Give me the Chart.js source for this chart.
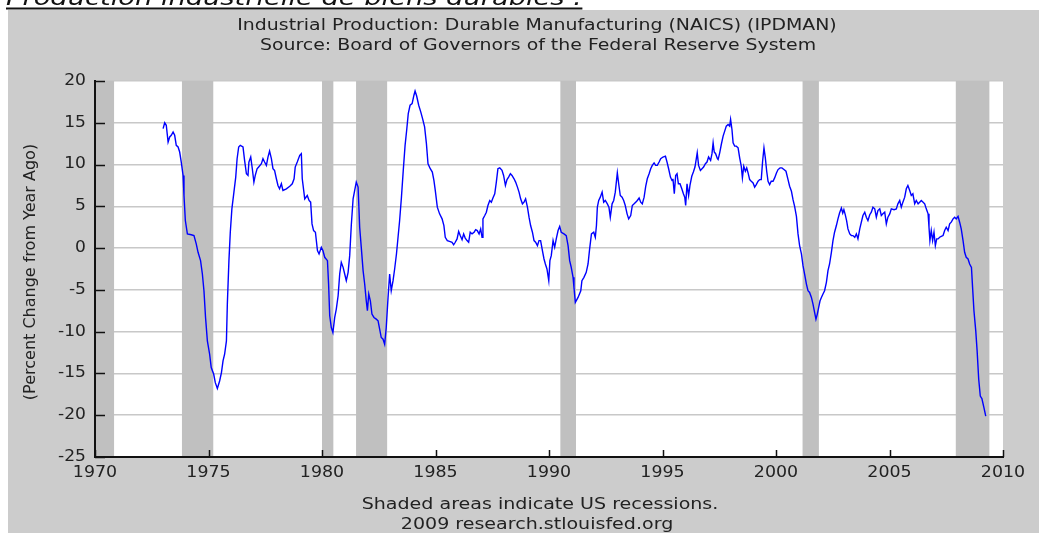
<!DOCTYPE html>
<html>
<head>
<meta charset="utf-8">
<title>IPDMAN</title>
<script src="https://cdn.jsdelivr.net/npm/chart.js@4"></script>
<style>
  html, body { margin: 0; padding: 0; background: #fff; }
  canvas { display: block; }
</style>
</head>
<body>
<canvas id="ipChart" width="1045" height="533"></canvas>
<script>
// Percent change from year ago (decimal years)
let years = [
    1973.00, 1973.07, 1973.14, 1973.22, 1973.29, 1973.36, 1973.44, 1973.51, 1973.58, 1973.66,
    1973.73, 1973.80, 1973.88, 1973.92, 1973.98, 1974.07, 1974.24, 1974.36, 1974.46, 1974.54,
    1974.65, 1974.73, 1974.80, 1974.87, 1974.95, 1975.05, 1975.12, 1975.23, 1975.30, 1975.39,
    1975.49, 1975.57, 1975.64, 1975.71, 1975.79, 1975.83, 1975.90, 1975.96, 1976.03, 1976.12,
    1976.20, 1976.26, 1976.33, 1976.40, 1976.52, 1976.59, 1976.67, 1976.74, 1976.78, 1976.86,
    1976.93, 1977.00, 1977.06, 1977.14, 1977.21, 1977.33, 1977.40, 1977.47, 1977.55, 1977.62,
    1977.69, 1977.77, 1977.84, 1977.91, 1977.99, 1978.06, 1978.13, 1978.21, 1978.28, 1978.43,
    1978.58, 1978.69, 1978.77, 1978.82, 1978.91,
    1979.02, 1979.09, 1979.13, 1979.24, 1979.35, 1979.43, 1979.50, 1979.56, 1979.63, 1979.71,
    1979.80, 1979.87, 1979.97, 1980.04, 1980.12, 1980.24, 1980.29, 1980.34, 1980.41, 1980.48,
    1980.56, 1980.63, 1980.71, 1980.78, 1980.85, 1980.93, 1981.00, 1981.07, 1981.15, 1981.22,
    1981.29, 1981.37, 1981.44, 1981.51, 1981.59, 1981.66, 1981.73, 1981.81, 1981.88, 1981.95,
    1982.00, 1982.06, 1982.13, 1982.20, 1982.29, 1982.39, 1982.47, 1982.54, 1982.61, 1982.69,
    1982.76, 1982.83, 1982.91, 1982.98, 1983.05, 1983.13, 1983.20, 1983.28, 1983.35, 1983.42,
    1983.50, 1983.58, 1983.66, 1983.73, 1983.80, 1983.88, 1983.97, 1984.05, 1984.10, 1984.17,
    1984.26, 1984.35, 1984.43, 1984.52, 1984.60, 1984.67, 1984.77, 1984.86, 1984.93, 1984.99,
    1985.08,
    1985.18, 1985.29, 1985.37, 1985.43, 1985.52, 1985.62, 1985.73, 1985.80, 1985.87, 1985.95,
    1986.02, 1986.09, 1986.17, 1986.24, 1986.31, 1986.39, 1986.46, 1986.53, 1986.61, 1986.70,
    1986.77, 1986.84, 1986.92, 1986.99, 1987.05, 1987.09, 1987.17, 1987.24, 1987.31, 1987.39,
    1987.46, 1987.53, 1987.61, 1987.68, 1987.75, 1987.83, 1987.93, 1988.00, 1988.08, 1988.15,
    1988.22, 1988.30, 1988.37, 1988.46, 1988.53, 1988.61, 1988.68, 1988.75, 1988.83, 1988.90,
    1988.97, 1989.05, 1989.12, 1989.19, 1989.27, 1989.34, 1989.41, 1989.49, 1989.56, 1989.63,
    1989.71, 1989.78, 1989.84, 1989.91, 1989.99, 1990.04, 1990.10, 1990.18, 1990.25, 1990.32,
    1990.40, 1990.47, 1990.54, 1990.66, 1990.76, 1990.84, 1990.91, 1990.98, 1991.06, 1991.10,
    1991.16,
    1991.28, 1991.40, 1991.45, 1991.54, 1991.64, 1991.72, 1991.79, 1991.87, 1991.97, 1992.04,
    1992.09, 1992.13, 1992.19, 1992.26, 1992.34, 1992.41, 1992.48, 1992.57, 1992.64, 1992.70,
    1992.78, 1992.85, 1992.92, 1993.01, 1993.07, 1993.14, 1993.22, 1993.29, 1993.36, 1993.44,
    1993.51, 1993.60, 1993.67, 1993.75, 1993.82, 1993.89, 1993.97, 1994.04, 1994.11, 1994.19,
    1994.26, 1994.33, 1994.41, 1994.48, 1994.55, 1994.63, 1994.70, 1994.77, 1994.85, 1994.92,
    1995.02, 1995.13, 1995.20, 1995.27, 1995.35, 1995.42, 1995.46, 1995.52, 1995.58, 1995.64,
    1995.70, 1995.77, 1995.85, 1995.92, 1995.98, 1996.02, 1996.08, 1996.15, 1996.21, 1996.29,
    1996.36, 1996.43, 1996.49, 1996.53, 1996.59, 1996.67, 1996.74, 1996.81, 1996.89, 1996.96,
    1997.03, 1997.12, 1997.18, 1997.23, 1997.28, 1997.34, 1997.42,
    1997.45, 1997.52, 1997.59, 1997.67, 1997.74, 1997.81, 1997.89, 1997.96, 1998.00, 1998.06,
    1998.11, 1998.18, 1998.25, 1998.33, 1998.40, 1998.47, 1998.52, 1998.58, 1998.65, 1998.71,
    1998.77, 1998.84, 1998.91, 1998.99, 1999.06, 1999.13, 1999.21, 1999.28, 1999.35, 1999.41,
    1999.47, 1999.53, 1999.59, 1999.65, 1999.72, 1999.79, 1999.87, 1999.94, 2000.02, 2000.09,
    2000.18, 2000.26, 2000.35, 2000.44, 2000.53, 2000.60, 2000.68, 2000.75, 2000.82, 2000.90,
    2000.97, 2001.04, 2001.12, 2001.19, 2001.26, 2001.34, 2001.41, 2001.48, 2001.56, 2001.63,
    2001.70, 2001.76, 2001.82, 2001.88, 2001.94, 2002.00, 2002.07, 2002.14, 2002.22, 2002.29,
    2002.36, 2002.44, 2002.51, 2002.58, 2002.66, 2002.73, 2002.80, 2002.88, 2002.94, 2002.99,
    2003.05, 2003.11, 2003.17, 2003.25, 2003.32, 2003.39, 2003.47, 2003.54,
    2003.61, 2003.69, 2003.76, 2003.83, 2003.91, 2003.98, 2004.05, 2004.13, 2004.20, 2004.27,
    2004.35, 2004.42, 2004.49, 2004.57, 2004.64, 2004.71, 2004.79, 2004.86, 2004.93, 2005.01,
    2005.08, 2005.20, 2005.30, 2005.37, 2005.45, 2005.52, 2005.59, 2005.67, 2005.74, 2005.81,
    2005.89, 2005.96, 2006.03, 2006.11, 2006.18, 2006.26, 2006.33, 2006.40, 2006.48, 2006.55,
    2006.62, 2006.70, 2006.74, 2006.78, 2006.84, 2006.90, 2006.96, 2007.02, 2007.08, 2007.14,
    2007.21, 2007.28, 2007.36, 2007.43, 2007.50, 2007.58, 2007.65, 2007.72, 2007.80, 2007.87,
    2007.94, 2008.02, 2008.09, 2008.16, 2008.24, 2008.31, 2008.38, 2008.46, 2008.53, 2008.61,
    2008.66, 2008.72, 2008.80, 2008.86, 2008.93, 2009.00, 2009.07, 2009.16, 2009.24
];

let values = [
    14.3, 15.0, 14.7, 12.7, 13.3, 13.5, 13.9, 13.5, 12.3, 12.1,
    11.5, 10.3, 8.7, 6.3, 3.3, 1.7, 1.6, 1.5, 0.5, -0.5,
    -1.5, -3.1, -5.1, -8.3, -11.1, -12.7, -14.3, -15.1, -16.1, -16.8,
    -15.9, -14.9, -13.5, -12.7, -11.1, -6.7, -1.5, 1.9, 4.7, 6.7,
    8.5, 10.7, 12.1, 12.3, 12.1, 10.5, 8.9, 8.7, 10.3, 10.9,
    9.5, 7.9, 8.7, 9.5, 9.7, 10.1, 10.7, 10.3, 9.9, 10.9,
    11.6, 10.7, 9.5, 9.3, 8.3, 7.5, 7.1, 7.7, 6.9, 7.1,
    7.4, 7.7, 8.3, 9.7, 10.3,
    11.1, 11.3, 8.3, 5.9, 6.3, 5.7, 5.5, 2.9, 2.1, 1.9,
    -0.3, -0.7, 0.1, -0.3, -1.1, -1.5, -4.3, -8.1, -9.5, -10.1,
    -8.3, -7.3, -5.7, -3.1, -1.7, -2.3, -3.1, -3.9, -2.9, -0.9,
    2.7, 5.9, 6.9, 7.9, 7.3, 2.5, 0.1, -2.7, -4.3, -6.3,
    -7.5, -5.5, -6.3, -7.9, -8.3, -8.5, -8.7, -9.7, -10.7, -10.9,
    -11.5, -9.5, -5.9, -3.1, -5.1, -3.9, -2.5, -0.7, 1.3, 3.3,
    6.1, 9.3, 12.3, 14.1, 16.1, 17.1, 17.3, 18.3, 18.8, 18.2,
    17.1, 16.3, 15.5, 14.5, 12.5, 10.1, 9.5, 9.1, 8.1, 6.9,
    4.9,
    4.1, 3.5, 2.7, 1.3, 0.9, 0.8, 0.7, 0.4, 0.7, 1.1,
    2.0, 1.5, 1.0, 1.7, 1.2, 0.9, 0.7, 1.9, 1.7, 1.9,
    2.2, 2.1, 1.7, 2.3, 1.3, 3.5, 3.9, 4.3, 5.1, 5.7,
    5.5, 6.0, 6.5, 7.9, 9.5, 9.6, 9.3, 8.7, 7.5, 8.2,
    8.5, 8.9, 8.7, 8.3, 7.9, 7.3, 6.7, 5.9, 5.3, 5.5,
    5.9, 4.9, 3.7, 2.7, 1.9, 0.9, 0.7, 0.3, 0.9, 0.9,
    -0.3, -1.3, -1.9, -2.5, -3.9, -1.5, -0.9, 0.9, 0.1, 1.1,
    2.1, 2.6, 1.9, 1.7, 1.5, 0.3, -1.5, -2.3, -3.5, -4.7,
    -6.5,
    -5.9, -5.1, -3.9, -3.5, -2.9, -1.9, -0.1, 1.7, 1.9, 1.3,
    2.7, 4.9, 5.7, 6.1, 6.7, 5.5, 5.7, 5.3, 4.9, 3.7,
    5.3, 5.7, 6.7, 9.0, 7.7, 6.3, 6.1, 5.7, 5.1, 4.1,
    3.5, 3.9, 5.1, 5.3, 5.5, 5.7, 6.0, 5.5, 5.3, 6.1,
    7.4, 8.3, 8.9, 9.5, 9.9, 10.2, 9.9, 9.9, 10.3, 10.7,
    10.9, 11.0, 10.3, 9.5, 8.5, 8.1, 8.3, 6.5, 8.7, 8.9,
    7.7, 7.7, 7.1, 6.5, 6.1, 5.1, 7.7, 6.3, 7.5, 8.6,
    9.1, 9.7, 10.7, 11.4, 9.9, 9.3, 9.5, 9.7, 10.1, 10.3,
    10.9, 10.5, 11.3, 12.6, 11.5, 11.3, 10.7,
    10.6, 11.4, 12.4, 13.4, 14.0, 14.6, 14.8, 14.6, 15.4, 14.2,
    12.6, 12.2, 12.2, 12.0, 10.8, 9.8, 8.4, 9.8, 9.2, 9.6,
    9.0, 8.2, 8.0, 7.8, 7.3, 7.6, 8.0, 8.2, 8.2, 10.4,
    12.0, 10.8, 9.2, 8.0, 7.6, 8.0, 8.0, 8.4, 9.0, 9.4,
    9.6, 9.6, 9.4, 9.2, 8.2, 7.4, 6.8, 5.8, 5.0, 3.8,
    1.7, 0.3, -0.7, -2.1, -3.1, -4.3, -5.1, -5.3, -5.9, -6.7,
    -7.7, -8.5, -7.9, -7.1, -6.3, -5.9, -5.5, -5.1, -4.1, -2.7,
    -1.9, -0.5, 0.9, 1.9, 2.7, 3.5, 4.2, 4.8, 4.2, 4.6,
    4.0, 3.3, 2.3, 1.7, 1.5, 1.5, 1.3, 1.7,
    1.1, 2.3, 3.1, 3.9, 4.3, 3.7, 3.3, 4.0, 4.3, 4.9,
    4.7, 3.7, 4.5, 4.7, 3.9, 4.1, 4.3, 2.9, 3.7, 4.1,
    4.7, 4.6, 4.7, 5.3, 5.7, 4.9, 5.5, 6.1, 7.1, 7.5,
    6.9, 6.3, 6.5, 5.3, 5.7, 5.3, 5.5, 5.7, 5.5, 5.3,
    4.7, 4.1, 2.5, 0.9, 2.1, 0.9, 1.9, 0.3, 1.1, 1.1,
    1.3, 1.4, 1.5, 2.1, 2.5, 2.1, 2.9, 3.1, 3.5, 3.7,
    3.5, 3.8, 3.1, 2.3, 0.9, -0.5, -1.1, -1.3, -1.9, -2.3,
    -4.7, -7.5, -9.9, -12.3, -15.7, -17.7, -18.0, -19.1, -20.1
];

// US recessions (shaded bands)
let recessionStart = [1969.92, 1973.83, 1980.00, 1981.50, 1990.50, 2001.17, 2007.92];
let recessionEnd = [1970.84, 1975.21, 1980.50, 1982.87, 1991.19, 2001.89, 2009.40];

// Axis ticks
let xTicks = [1970, 1975, 1980, 1985, 1990, 1995, 2000, 2005, 2010];
let xTickLabels = ["1970", "1975", "1980", "1985", "1990", "1995", "2000", "2005", "2010"];
let yTicks = [20, 15, 10, 5, 0, -5, -10, -15, -20, -25];
let yTickLabels = ["20", "15", "10", "5", "0", "-5", "-10", "-15", "-20", "-25"];

let titleLines = [
    "Industrial Production: Durable Manufacturing (NAICS) (IPDMAN)",
    "Source: Board of Governors of the Federal Reserve System"
];
let footerLines = ["Shaded areas indicate US recessions.", "2009 research.stlouisfed.org"];
let yTitle = "(Percent Change from Year Ago)";
let pageHeading = "Production industrielle de biens durables :";

let fontFamily = '"DejaVu Sans", Verdana, sans-serif';

// the source image is stretched sideways, so horizontal text gets a x-scale
function drawWide(ctx, text, x, y, sx, align) {
    ctx.save();
    ctx.translate(x, y);
    ctx.scale(sx, 1);
    ctx.textAlign = align;
    ctx.fillText(text, 0, 0);
    ctx.restore();
}

// panel, white plot area and the clipped heading above the panel
let backgroundPlugin = {
    id: "fredBackground",
    beforeDraw(chart) {
        let ctx = chart.ctx;
        let area = chart.chartArea;
        ctx.save();
        ctx.fillStyle = "#ffffff";
        ctx.fillRect(0, 0, chart.width, chart.height);
        ctx.fillStyle = "#cccccc";
        ctx.fillRect(8, 10, 1031, chart.height - 10);
        ctx.fillStyle = "#ffffff";
        ctx.fillRect(area.left, area.top, area.right - area.left, area.bottom - area.top);

        ctx.font = "italic 22px " + fontFamily;
        ctx.fillStyle = "#111111";
        ctx.textBaseline = "alphabetic";
        drawWide(ctx, pageHeading, 6, 5, 1.24, "left");
        let w = ctx.measureText(pageHeading).width * 1.24;
        ctx.fillRect(6, 7.5, w, 2);
        ctx.restore();
    }
};

// recession bands sit over the grid lines but under the series
let recessionPlugin = {
    id: "recessions",
    beforeDatasetsDraw(chart) {
        let ctx = chart.ctx;
        let area = chart.chartArea;
        let xScale = chart.scales.x;
        ctx.save();
        ctx.fillStyle = "#c0c0c0";
        for (let i = 0; i < recessionStart.length; i++) {
            let x1 = Math.max(xScale.getPixelForValue(recessionStart[i]), area.left + 1);
            let x2 = Math.min(xScale.getPixelForValue(recessionEnd[i]), area.right);
            ctx.fillRect(x1, area.top, x2 - x1, area.bottom - area.top - 1);
        }
        ctx.restore();
    }
};

// inward tick marks, tick labels, titles and footer
let textPlugin = {
    id: "fredText",
    afterDraw(chart) {
        let ctx = chart.ctx;
        let area = chart.chartArea;
        let xScale = chart.scales.x;
        let yScale = chart.scales.y;
        ctx.save();
        ctx.strokeStyle = "#111111";
        ctx.lineWidth = 1.5;
        ctx.beginPath();
        xTicks.forEach(v => {
            let px = Math.round(xScale.getPixelForValue(v)) + 0.5;
            ctx.moveTo(px, area.bottom);
            ctx.lineTo(px, area.bottom - 7);
        });
        yTicks.forEach(v => {
            let py = Math.round(yScale.getPixelForValue(v)) + 0.5;
            ctx.moveTo(area.left, py);
            ctx.lineTo(area.left + 10, py);
        });
        ctx.stroke();

        ctx.fillStyle = "#222222";
        ctx.font = "15px " + fontFamily;

        ctx.textBaseline = "top";
        xTicks.forEach((v, i) => {
            drawWide(ctx, xTickLabels[i], xScale.getPixelForValue(v), area.bottom + 9, 1.16, "center");
        });
        ctx.textBaseline = "middle";
        yTicks.forEach((v, i) => {
            drawWide(ctx, yTickLabels[i], area.left - 9, yScale.getPixelForValue(v), 1.14, "right");
        });

        ctx.textBaseline = "alphabetic";
        drawWide(ctx, titleLines[0], 537, 30, 1.26, "center");
        drawWide(ctx, titleLines[1], 538, 50, 1.26, "center");
        drawWide(ctx, footerLines[0], 540, 509, 1.27, "center");
        drawWide(ctx, footerLines[1], 537, 529, 1.27, "center");

        ctx.font = "16px " + fontFamily;
        ctx.translate(31, 272);
        ctx.rotate(-Math.PI / 2);
        ctx.textAlign = "center";
        ctx.textBaseline = "middle";
        ctx.fillText(yTitle, 0, 0);
        ctx.restore();
    }
};

let points = years.map((yr, i) => ({ x: yr, y: values[i] }));

let ctx = document.getElementById("ipChart").getContext("2d");
let ipChart = new Chart(ctx, {
    type: "line",
    data: {
        datasets: [{
            data: points,
            borderColor: "#0000ff",
            borderWidth: 1.4,
            pointRadius: 0,
            tension: 0,
            fill: false
        }]
    },
    options: {
        responsive: false,
        animation: false,
        layout: { padding: { top: 81, right: 42, left: 0, bottom: 0 } },
        plugins: {
            legend: { display: false },
            tooltip: { enabled: false }
        },
        scales: {
            x: {
                type: "linear",
                min: 1970,
                max: 2010,
                afterBuildTicks: scale => { scale.ticks = xTicks.map(v => ({ value: v })); },
                afterFit: scale => { scale.height = 76; },
                ticks: { display: false },
                grid: { drawOnChartArea: false, drawTicks: false },
                border: { display: true, color: "#111111", width: 2 }
            },
            y: {
                min: -25,
                max: 20,
                afterBuildTicks: scale => { scale.ticks = yTicks.map(v => ({ value: v })); },
                afterFit: scale => { scale.width = 95; },
                ticks: { display: false },
                grid: { color: "#c8c8c8", lineWidth: 1.5, drawTicks: false },
                border: { display: true, color: "#111111", width: 2 }
            }
        }
    },
    plugins: [backgroundPlugin, recessionPlugin, textPlugin]
});
</script>
</body>
</html>
